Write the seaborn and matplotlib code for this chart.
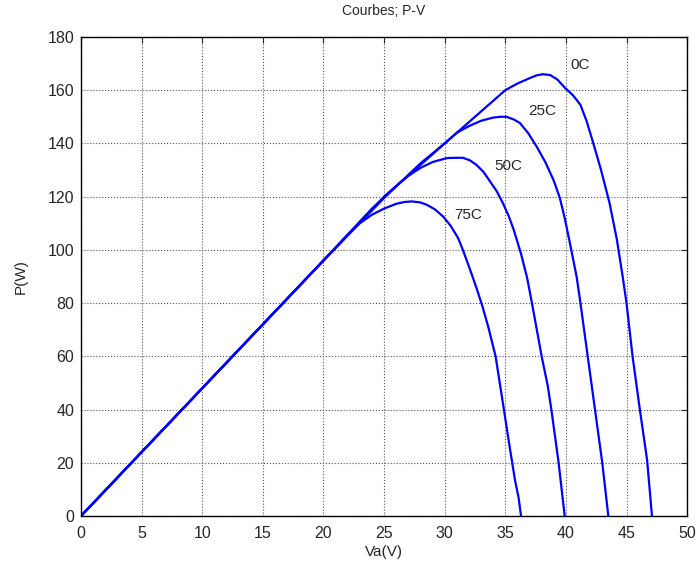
import pandas as pd
import matplotlib
matplotlib.use("Agg")
import matplotlib.pyplot as plt
import seaborn as sns

sns.set_style("white")
plt.rcParams['font.family'] = ['Liberation Sans', 'DejaVu Sans']

# P-V curves, one per temperature
v_0c = [0, 2, 5, 10, 15, 20, 25, 28, 30, 32, 33, 34, 35, 36, 37, 37.6, 38.1,
        38.7, 39.3, 39.9, 40.6, 41.2, 41.7, 42.2, 42.9, 43.6, 44.2, 44.7,
        45.0, 45.5, 46.1, 46.7, 47.1]
p_0c = [0, 9.6, 24, 48, 72, 96, 119.5, 132.5, 140, 148, 152, 156, 160, 162.5,
        164.5, 165.6, 166, 165.7, 164, 161, 158, 154.5, 148.5, 141, 130, 117.6,
        104, 89.5, 80, 60, 40, 21, 0]

v_25c = [0, 5, 10, 15, 20, 25, 28.2, 30, 31, 32, 33, 34, 34.6, 35.1, 35.7,
         36.2, 36.9, 37.6, 38.3, 39, 39.5, 39.9, 40.4, 40.9, 41.2, 41.8, 42.4,
         43, 43.5]
p_25c = [0, 24, 48, 72, 96, 120, 132.7, 140, 144, 146.5, 148.5, 149.7, 150,
         150, 149, 147.7, 143.8, 138.7, 133, 126, 119.5, 112, 101, 89.5, 80, 60,
         40, 20, 0]

v_50c = [0, 5, 10, 15, 20, 24, 26, 27, 28, 29, 30.2, 31, 31.5, 32.1, 32.6,
         33.2, 33.7, 34.3, 34.8, 35.3, 35.7, 36.3, 36.8, 37.2, 37.6, 38,
         38.5, 38.8, 39.4, 39.9]
p_50c = [0, 24, 48, 72, 96, 115.5, 124, 127.8, 130.8, 133, 134.5, 134.6,
         134.6, 133.6, 132, 129.3, 126, 122, 117.6, 112.5, 107.5, 98.5, 89.5,
         80, 70, 60, 49, 40, 20, 0]

v_75c = [0, 5, 10, 15, 20, 22, 23, 24, 25, 26, 26.7, 27.3, 28, 28.5, 29.2,
         29.9, 30.5, 31.1, 31.5, 32.1, 32.6, 33.1, 33.6, 34.2, 34.8, 35.4,
         35.8, 36.1, 36.3]
p_75c = [0, 24, 48, 72, 96, 105.6, 110, 113.2, 115.5, 117.3, 118, 118.2, 117.8,
         117, 115.2, 112.4, 109, 104.5, 100, 92.5, 86, 79, 71, 60, 42.5, 24.8,
         13.5, 6.8, 0]

labels = ["0C", "25C", "50C", "75C"]
label_pos = [(40.4, 169.5), (36.9, 152), (34.1, 131.5), (30.8, 113)]

frames = []
for name, v, p in zip(labels, [v_0c, v_25c, v_50c, v_75c],
                      [p_0c, p_25c, p_50c, p_75c]):
    frames.append(pd.DataFrame({"V": v, "P": p, "temp": name}))
df = pd.concat(frames, ignore_index=True)

fig = plt.figure(figsize=(6.99, 5.67), dpi=100)
ax = fig.add_axes([0.1159, 0.09, 0.8671, 0.8448])

sns.lineplot(data=df, x="V", y="P", hue="temp", units="temp", estimator=None,
             sort=False, palette=["#0000ff"] * 4, linewidth=1.6, legend=False,
             ax=ax)

for name, (x, y) in zip(labels, label_pos):
    ax.text(x, y, name, fontsize=11, va="center", ha="left")

ax.set_xlim(0, 50)
ax.set_ylim(0, 180)
ax.set_xticks(range(0, 51, 5))
ax.set_yticks(range(0, 181, 20))
ax.grid(True, color="#555555", linestyle=":", linewidth=0.8)
ax.tick_params(direction="in", length=4, top=True, right=True, labelsize=11.5,
               width=0.8)
ax.tick_params(axis="x", pad=7)
ax.tick_params(axis="y", pad=5)
for s in ax.spines.values():
    s.set_color("black")
    s.set_linewidth(1.0)

ax.set_xlabel("Va(V)", fontsize=11, labelpad=3)
ax.set_ylabel("P(W)", fontsize=11, labelpad=14)
ax.set_title("Courbes; P-V", fontsize=10, pad=16)

fig.savefig("out.png", dpi=100)
